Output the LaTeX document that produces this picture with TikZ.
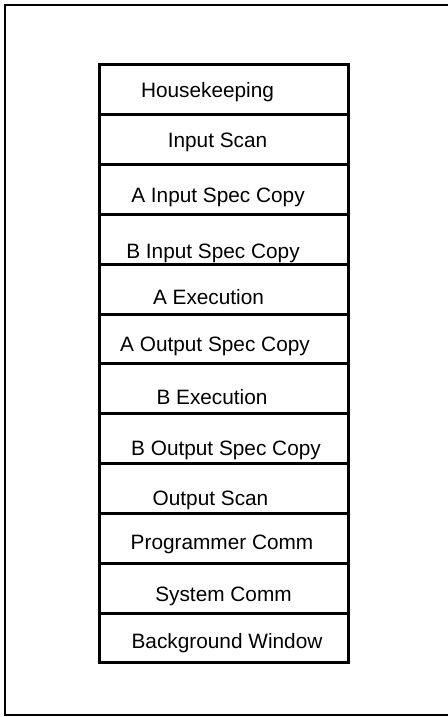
\documentclass[tikz,border=0pt]{standalone}
\usepackage{fontspec}
\setmainfont{Liberation Sans}
\tikzset{
  frame/.style={line width=1pt},
  slot/.style={draw,line width=1.5pt,inner sep=0pt,minimum width=124.25pt,minimum height=24.915pt},
  lbl/.style={anchor=base,inner sep=0pt}
}
\begin{document}
\begin{tikzpicture}[x=0.5pt,y=-0.5pt,line join=miter,font=\fontsize{10.4}{12.5}\selectfont]
	\useasboundingbox (0,0) rectangle (448,717);
	% open frame, right side runs off the page
	\draw[frame] (448,5)--(4.5,5)--(4.5,715)--(448,715);
	\foreach \i in {0,...,11}
		\node[slot] (s\i) at (223.75,{65+49.83*(\i+0.5)}) {};
	\node[lbl] (hk) at (207.5,97.7) {Housekeeping};
	\node[lbl] (is) at (217.5,148) {Input Scan};
	\node[lbl] (ai) at (218,202.7) {A Input Spec Copy};
	\node[lbl] (bi) at (213,258) {B Input Spec Copy};
	\node[lbl] (ae) at (208.5,304) {A Execution};
	\node[lbl] (ao) at (215,351.7) {A Output Spec Copy};
	\node[lbl] (be) at (212,404) {B Execution};
	\node[lbl] (bo) at (226,455) {B Output Spec Copy};
	\node[lbl] (os) at (210.5,505) {Output Scan};
	\node[lbl] (pc) at (222,549) {Programmer Comm};
	\node[lbl] (sc) at (223.5,601) {System Comm};
	\node[lbl] (bw) at (227,648) {Background Window};
\end{tikzpicture}
\end{document}
